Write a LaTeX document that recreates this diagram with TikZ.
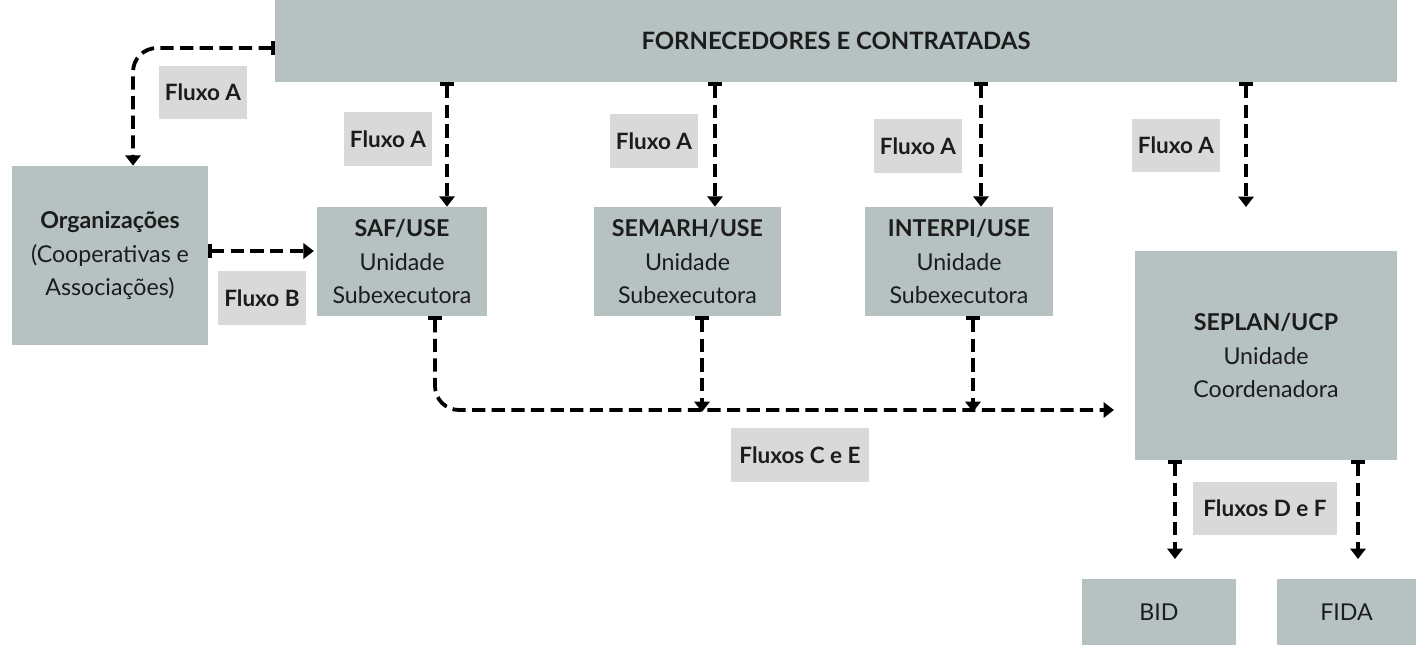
\documentclass[tikz,border=0pt]{standalone}
\usepackage{fontspec}
\setmainfont{Lato}
\usepackage{tikz}
\usetikzlibrary{arrows.meta, positioning, calc}
\definecolor{caixa}{HTML}{B5C2C1}
\definecolor{rotulo}{HTML}{D9D9D9}
\definecolor{texto}{HTML}{1C1C1C}

\begin{document}
\begin{tikzpicture}[x=0.025cm, y=-0.025cm,
		unidade/.style={fill=caixa, text=texto, align=center, inner sep=0pt, font=\fontsize{16.5}{24}\selectfont},
		fluxo/.style={fill=rotulo, text=texto, inner sep=0pt, minimum height=1.325cm, font=\bfseries\fontsize{16}{18}\selectfont},
		seta/.style={dash pattern=on 0.33cm off 0.16cm, line width=2.7pt, {Bar[width=0.33cm]}-{Triangle[width=0.38cm, length=0.26cm]}}]
				\useasboundingbox (0,0) rectangle (1416,645);
				\node[unidade, minimum width=28.05cm, minimum height=2.05cm] (forn) at (836,41) {\bfseries\fontsize{17}{20}\selectfont FORNECEDORES E CONTRATADAS};
				\node[unidade, minimum width=4.9cm, minimum height=4.475cm] (org) at (110,255.5) {\textbf{Organizações}\\(Cooperativas e\\Associações)};
				\node[unidade, minimum width=4.25cm, minimum height=2.725cm] (saf) at (402,261.5) {\textbf{SAF/USE}\\Unidade\\Subexecutora};
				\node[unidade, minimum width=4.675cm, minimum height=2.725cm] (semarh) at (687.5,261.5) {\textbf{SEMARH/USE}\\Unidade\\Subexecutora};
				\node[unidade, minimum width=4.7cm, minimum height=2.725cm] (interpi) at (959,261.5) {\textbf{INTERPI/USE}\\Unidade\\Subexecutora};
				\node[unidade, minimum width=6.55cm, minimum height=5.225cm] (seplan) at (1266,355.5) {\textbf{SEPLAN/UCP}\\Unidade\\Coordenadora};
				\node[unidade, minimum width=3.85cm, minimum height=1.65cm] (bid) at (1159,612) {BID};
				\node[unidade, minimum width=3.475cm, minimum height=1.65cm] (fida) at (1346.5,612) {FIDA};
				
				\node[fluxo, minimum width=2.2cm] (fa0) at (203,92.5) {Fluxo A};
				\node[fluxo, minimum width=2.2cm] (fa1) at (388,139) {Fluxo A};
				\node[fluxo, minimum width=2.2cm] (fa2) at (654,141) {Fluxo A};
				\node[fluxo, minimum width=2.2cm] (fa3) at (918,146) {Fluxo A};
				\node[fluxo, minimum width=2.2cm] (fa4) at (1176,145.5) {Fluxo A};
				\node[fluxo, minimum width=2.175cm] (fb) at (262,298) {Fluxo B};
				\node[fluxo, minimum width=3.425cm] (fce) at (800,455) {Fluxos C e E};
				\node[fluxo, minimum width=3.6cm] (fdf) at (1265,508.5) {Fluxos D e F};
				
				\coordinate (livre) at (1246,207);
				\coordinate (junta) at (1114,410);
				\coordinate (bidtop) at (1175,559);
				\coordinate (fidatop) at (1358,559);
				
				\draw[seta, rounded corners=0.6cm] (forn.west |- 0,48) -| (org.north -| 133,0);
				\draw[seta] (forn.south -| 447,0) -- (saf.north -| 447,0);
				\draw[seta] (forn.south -| 715,0) -- (semarh.north -| 715,0);
				\draw[seta] (forn.south -| 981,0) -- (interpi.north -| 981,0);
				\draw[seta] (forn.south -| livre) -- (livre);
				\draw[seta, shorten >=2pt] (org.east |- 0,251) -- (saf.west |- 0,251);
				\draw[seta, rounded corners=0.6cm] (saf.south -| 435,0) |- (junta);
				\draw[seta] (semarh.south -| 702,0) -- (702,412);
				\draw[seta] (interpi.south -| 973,0) -- (973,412);
				\draw[seta] (seplan.south -| bidtop) -- (bidtop);
				\draw[seta] (seplan.south -| fidatop) -- (fidatop);
			\end{tikzpicture}
\end{document}
